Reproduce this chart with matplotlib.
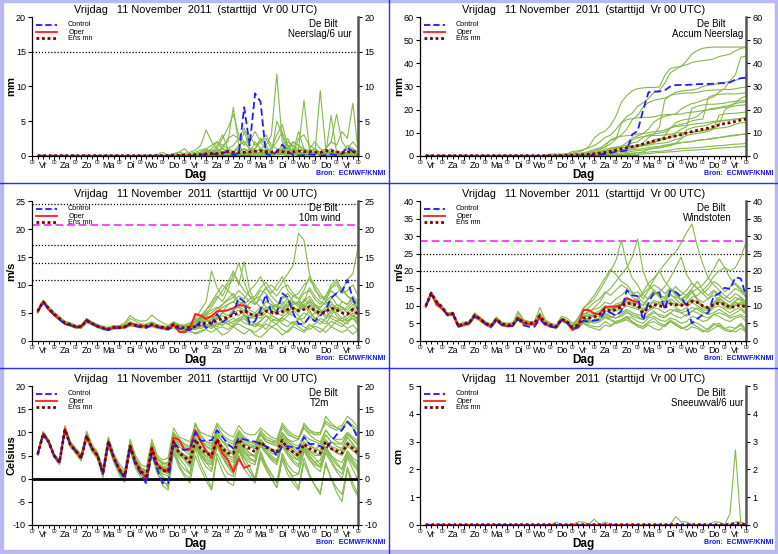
import numpy as np
import matplotlib
matplotlib.use("Agg")
import matplotlib.pyplot as plt
from matplotlib.lines import Line2D
from matplotlib.patches import Rectangle

plt.rcParams['font.family'] = ['Liberation Sans', 'DejaVu Sans']
plt.rcParams['axes.unicode_minus'] = False

# 6-hourly lead times, +6h .. +360h
lead_hours = [6 * i for i in range(1, 61)]
day_names = ['Vr', 'Za', 'Zo', 'Ma', 'Di', 'Wo', 'Do', 'Vr', 'Za', 'Zo', 'Ma', 'Di', 'Wo', 'Do', 'Vr']
title = 'Vrijdag   11 November  2011  (starttijd  Vr 00 UTC)'

# ---------------- precipitation per 6 h (mm) ----------------
precip_control = [0, 0, 0, 0, 0, 0, 0, 0, 0, 0, 0, 0, 0, 0, 0, 0, 0, 0, 0, 0,
                  0, 0, 0, 0, 0, 0, 0, 0, 0, 0, 0.1, 0.2, 0.3, 0.2, 0.3, 0.7, 0.1, 0.3, 7.0, 1.5,
                  9.0, 7.8, 0.3, 0, 0.6, 1.6, 0.6, 0.1, 0, 0.1, 0.2, 0.1, 0, 0.1, 0.2, 0.1, 0.3, 1.2, 0.6, 0.2]
precip_oper = [0] * 40
precip_ensmn = [0, 0, 0, 0, 0, 0, 0, 0, 0, 0, 0, 0, 0, 0, 0, 0, 0, 0, 0, 0,
                0, 0, 0, 0, 0.02, 0.05, 0.05, 0.08, 0.1, 0.12, 0.15, 0.25, 0.3, 0.3, 0.4, 0.6, 0.5, 0.45, 0.5, 0.55,
                0.65, 0.7, 0.6, 0.5, 0.65, 0.6, 0.45, 0.55, 0.7, 0.6, 0.6, 0.5, 0.45, 0.7, 0.7, 0.55, 0.4, 0.55, 0.6, 0.4]
precip_members = [
    [0, 0, 0, 0, 0, 0, 0, 0, 0, 0, 0, 0, 0, 0, 0, 0, 0, 0, 0, 0, 0, 0, 0, 0.1,
     0, 0.2, 0.5, 0.3, 0.5, 0.8, 1.5, 3.7, 2.0, 1.0, 2.5, 4.0, 6.0, 3.0, 2.0, 1.0,
     0.3, 0.2, 0, 0.2, 5.0, 3.0, 0.5, 0.3, 2.5, 3.0, 1.5, 1.0, 0.3, 0.2, 0, 0, 0, 0, 0, 0],
    [0, 0, 0, 0, 0, 0, 0, 0, 0, 0, 0, 0, 0, 0, 0, 0, 0, 0, 0, 0, 0, 0, 0, 0,
     0, 0.3, 0.5, 1.0, 0.3, 0.5, 0.8, 1.0, 1.5, 2.0, 1.0, 2.5, 3.0, 2.5, 1.5, 3.0,
     1.5, 2.0, 2.5, 1.0, 3.0, 4.5, 1.5, 1.5, 0.5, 1.0, 0.5, 0.3, 0.3, 0.5, 1.0, 0.5, 0.5, 1.5, 1.0, 0.5],
    [0, 0, 0, 0, 0, 0, 0, 0, 0, 0, 0, 0, 0, 0, 0, 0, 0, 0, 0, 0, 0, 0, 0, 0,
     0, 0, 0, 0.1, 0.2, 0.3, 0.2, 0.5, 0.5, 1.0, 0.5, 0.3, 0.5, 1.5, 2.0, 1.0,
     1.0, 2.0, 3.0, 1.5, 1.0, 0.5, 0.5, 2.0, 1.5, 1.0, 0.5, 1.0, 0.5, 1.0, 2.0, 1.5, 3.5, 2.5, 7.6, 0.5],
    [0, 0, 0, 0, 0, 0, 0, 0, 0, 0, 0, 0, 0, 0, 0, 0, 0, 0, 0, 0, 0, 0, 0, 0,
     0, 0, 0, 0, 0, 0.1, 0.3, 0.5, 0.3, 0.2, 0.5, 1.0, 0.5, 0.3, 0.2, 0.5,
     1.0, 2.5, 1.5, 3.0, 11.8, 2.0, 0.5, 0.3, 0.2, 0, 0.3, 0.5, 0.3, 0.2, 0, 0.2, 0, 0.3, 0.5, 0.2],
    [0, 0, 0, 0, 0, 0, 0, 0, 0, 0, 0, 0, 0, 0, 0, 0, 0, 0, 0, 0, 0, 0, 0, 0,
     0, 0, 0, 0, 0, 0, 0.2, 0.3, 0.5, 0.8, 0.3, 0.2, 0.3, 0.5, 1.0, 0.5,
     0.3, 0.2, 0.5, 1.0, 2.0, 3.5, 1.0, 0.5, 0.5, 1.0, 0.5, 0.3, 9.4, 1.0, 0.3, 0.2, 0, 0, 0.2, 0.3],
    [0, 0, 0, 0, 0, 0, 0, 0, 0, 0, 0, 0, 0, 0, 0, 0, 0, 0, 0, 0, 0, 0, 0, 0,
     0, 0, 0, 0, 0, 0.2, 0.5, 0.3, 0.2, 0.5, 1.0, 0.5, 0.3, 0.2, 0.5, 0.3,
     0.2, 0.5, 1.0, 0.5, 0.3, 1.0, 2.0, 1.5, 1.0, 8.0, 1.0, 0.5, 0.3, 0, 0.2, 0.3, 0.5, 0.3, 0.2, 0],
    [0, 0, 0, 0, 0, 0, 0, 0, 0, 0, 0, 0, 0, 0, 0, 0, 0, 0, 0, 0, 0, 0, 0.2, 0.5,
     0, 0, 0.1, 0, 0.2, 0.3, 0.5, 1.0, 0.5, 0.3, 1.5, 2.0, 7.0, 1.5, 0.5, 0.3,
     0.2, 0, 0.3, 0.5, 0.3, 0.2, 0, 0.2, 0.5, 0.3, 0.2, 0.5, 0.3, 0.2, 0.5, 0.3, 0.2, 0.5, 0.3, 0.2],
    [0, 0, 0, 0, 0, 0, 0, 0, 0, 0, 0, 0, 0, 0, 0, 0, 0, 0, 0, 0, 0, 0, 0, 0,
     0, 0, 0, 0, 0, 0, 0.2, 0.1, 0.3, 0.5, 0.2, 0.5, 0.5, 1.0, 3.5, 1.0,
     0.5, 0.3, 0.2, 0, 0.2, 0.3, 0.5, 0.2, 0, 0.2, 0.3, 0.5, 0.5, 0.3, 5.8, 0.5, 0.2, 0.1, 0.3, 0.2],
    [0, 0, 0, 0, 0, 0, 0, 0, 0, 0, 0, 0, 0, 0, 0, 0, 0, 0, 0, 0, 0, 0, 0, 0,
     0, 0, 0, 0, 0, 0, 0.1, 0.2, 0.3, 0.2, 0.5, 0.3, 0.5, 1.0, 0.5, 0.3,
     0.5, 1.0, 1.5, 0.5, 0.3, 0.2, 0.5, 1.0, 0.5, 0.3, 0.2, 0.3, 0.5, 0.5, 0.3, 0.2, 0.5, 1.0, 0.5, 0.3],
    [0, 0, 0, 0, 0, 0, 0, 0, 0, 0, 0, 0, 0, 0, 0, 0, 0, 0, 0, 0, 0, 0, 0, 0,
     0, 0, 0, 0, 0, 0, 0, 0.1, 0.2, 0.3, 0.1, 0.2, 0.3, 0.2, 0.5, 0.3,
     0.2, 0.5, 0.3, 0.2, 0.5, 1.0, 0.5, 0.3, 0.2, 0.3, 0.5, 0.2, 0.3, 0.5, 0.2, 0.3, 0.5, 0.3, 0.2, 0.2],
    [0, 0, 0, 0, 0, 0, 0, 0, 0, 0, 0, 0, 0, 0, 0, 0, 0, 0, 0, 0, 0, 0, 0, 0,
     0, 0, 0, 0, 0, 0, 0, 0, 0, 0.1, 0.2, 0.1, 0.2, 0.1, 0.3, 0.2,
     0.1, 0.3, 0.2, 0.1, 0.2, 0.3, 0.5, 0.2, 0.1, 0.2, 0.1, 0.2, 0.3, 0.2, 0.1, 0.2, 0.3, 0.2, 0.1, 0.2],
    [0, 0, 0, 0, 0, 0, 0, 0, 0, 0, 0, 0, 0, 0, 0, 0, 0, 0, 0, 0, 0, 0, 0, 0,
     0.1, 0.3, 0.2, 0.1, 0, 0.3, 0.5, 0.5, 1.0, 2.0, 1.5, 1.0, 1.5, 2.5, 4.0, 2.0,
     3.5, 2.0, 1.0, 0.5, 0.5, 1.0, 1.5, 0.5, 0.3, 0.2, 0.5, 1.0, 0.5, 0.3, 0.5, 0.5, 0.3, 0.5, 1.0, 0.5],
    [0, 0, 0, 0, 0, 0, 0, 0, 0, 0, 0, 0, 0, 0, 0, 0, 0, 0, 0, 0, 0, 0, 0, 0,
     0, 0, 0, 0, 0, 0.1, 0.3, 0.5, 0.8, 0.5, 1.0, 0.5, 0.3, 0.5, 1.0, 0.5,
     2.0, 1.0, 0.5, 0.3, 0.5, 1.5, 2.5, 1.0, 0.5, 0.3, 1.0, 2.0, 1.0, 0.5, 0.3, 0.5, 0.5, 1.0, 2.0, 1.0],
    [0, 0, 0, 0, 0, 0, 0, 0, 0, 0, 0, 0, 0, 0, 0, 0, 0, 0, 0, 0, 0, 0, 0, 0,
     0, 0, 0, 0, 0, 0, 0, 0.2, 0.3, 0.5, 0.2, 0.3, 0.5, 0.3, 0.5, 1.0,
     0.5, 0.3, 0.5, 0.2, 0.3, 0.5, 1.0, 0.5, 3.5, 1.0, 0.5, 0.3, 0.5, 1.0, 0.5, 0.3, 0.2, 0.5, 0.3, 0.2],
    [0, 0, 0, 0, 0, 0, 0, 0, 0, 0, 0, 0, 0, 0, 0, 0, 0, 0, 0, 0, 0, 0, 0, 0,
     0, 0, 0, 0, 0, 0.1, 0.2, 0.3, 0.2, 0.3, 0.5, 0.2, 0.3, 0.2, 0.3, 0.2,
     0.3, 0.5, 0.2, 0.3, 0.5, 0.3, 0.2, 0.5, 0.3, 0.2, 0.5, 0.3, 0.2, 0.3, 0.5, 0.3, 0.3, 0.2, 0.5, 0.3],
    [0, 0, 0, 0, 0, 0, 0, 0, 0, 0, 0, 0, 0, 0, 0, 0, 0, 0, 0, 0, 0, 0, 0, 0,
     0, 0, 0, 0, 0, 0, 0, 0, 0, 0.1, 0.2, 0.1, 0.2, 0.3, 0.2, 0.1,
     0.5, 1.0, 0.5, 0.3, 0.5, 0.3, 1.0, 2.0, 1.5, 0.5, 0.3, 0.5, 0.5, 1.0, 2.0, 6.0, 2.0, 1.0, 0.5, 0.3],
    [0, 0, 0, 0, 0, 0, 0, 0, 0, 0, 0, 0, 0, 0, 0, 0, 0, 0, 0, 0, 0, 0, 0, 0,
     0, 0.2, 0.5, 0.2, 0, 0, 0.2, 0.8, 0.5, 1.5, 3.0, 1.0, 0.5, 0.3, 0.2, 0.5,
     0.2, 0.3, 0.5, 0.2, 0.5, 1.0, 0.5, 0.3, 0.2, 0.5, 0.3, 0.2, 0.3, 0.5, 0.2, 0.3, 0.2, 0.3, 0.2, 0.3],
    [0, 0, 0, 0, 0, 0, 0, 0, 0, 0, 0, 0, 0, 0, 0, 0, 0, 0, 0, 0, 0, 0, 0, 0,
     0, 0, 0, 0, 0, 0, 0, 0, 0, 0, 0.1, 0.1, 0.1, 0.2, 0.1, 0,
     0.1, 0.2, 0.3, 0.2, 0.1, 0.2, 0.1, 0.3, 0.2, 0.1, 0.1, 0.2, 0.1, 0.3, 0.2, 0.1, 0.2, 0.1, 0.2, 0.1],
]

# ---------------- 10 m wind (m/s) ----------------
wind_control = [5.3, 7.0, 5.7, 4.7, 3.8, 3.0, 2.8, 2.4, 2.6, 3.7, 3.0, 2.6, 2.2, 1.9, 2.3, 2.3,
                2.4, 3.0, 2.6, 2.4, 2.3, 2.8, 2.5, 2.2, 2.0, 2.6, 2.2, 2.0, 1.9, 2.5, 3.5, 2.3,
                3.0, 4.8, 3.3, 4.0, 5.0, 7.7, 7.0, 3.0, 3.5, 5.5, 8.3, 5.0, 5.0, 8.5, 7.8, 5.0,
                3.0, 3.0, 4.3, 3.5, 4.5, 5.5, 7.7, 8.5, 8.8, 10.9, 7.5, 5.5]
wind_oper = [5.2, 7.0, 5.6, 4.6, 3.8, 3.0, 2.8, 2.4, 2.6, 3.8, 3.0, 2.6, 2.2, 2.0, 2.4, 2.4,
             2.4, 3.1, 2.8, 2.7, 2.5, 2.8, 2.5, 2.3, 2.1, 2.9, 1.6, 1.5, 2.2, 4.8, 4.5, 3.9,
             4.4, 5.3, 5.3, 5.5, 5.8, 6.4, 6.3, 5.9]
wind_ensmn = [5.3, 7.0, 5.8, 4.8, 4.0, 3.2, 2.9, 2.5, 2.5, 3.6, 3.1, 2.6, 2.3, 2.1, 2.4, 2.4,
              2.5, 3.0, 2.8, 2.6, 2.6, 2.9, 2.6, 2.4, 2.3, 2.9, 2.4, 2.3, 2.4, 2.5, 3.0, 3.2,
              3.2, 3.6, 4.0, 4.2, 4.6, 5.0, 5.4, 4.8, 4.5, 4.7, 5.3, 5.1, 4.9, 5.2, 5.6, 5.8,
              5.4, 5.6, 6.1, 5.4, 4.9, 5.1, 5.9, 5.5, 5.0, 4.8, 5.6, 4.6]
wind_members = [
    [5.0, 7.2, 6.0, 5.0, 4.2, 3.5, 3.2, 2.8, 2.7, 4.0, 3.4, 2.9, 2.6, 2.3, 2.7, 2.6,
     2.8, 3.4, 3.0, 2.9, 3.0, 3.4, 2.9, 2.6, 2.5, 3.2, 2.6, 2.4, 2.8, 3.5, 4.0, 4.8,
     5.5, 6.0, 5.2, 6.5, 7.0, 6.2, 5.5, 6.8, 7.5, 8.0, 9.5, 10.0, 9.0, 10.5, 12.0, 13.5,
     19.3, 18.0, 12.0, 9.0, 8.0, 7.5, 9.0, 8.0, 7.0, 6.5, 8.0, 7.0],
    [5.6, 7.0, 5.5, 4.5, 3.8, 3.0, 2.7, 2.2, 2.3, 3.4, 2.9, 2.4, 2.0, 1.9, 2.2, 2.3,
     2.3, 2.8, 2.6, 2.4, 2.4, 2.7, 2.4, 2.2, 2.1, 2.6, 2.0, 1.8, 2.2, 3.0, 4.5, 5.0,
     6.0, 7.5, 9.0, 10.5, 12.5, 10.0, 14.2, 9.0, 7.0, 6.0, 5.5, 6.5, 5.0, 4.5, 6.0, 7.0,
     6.5, 5.5, 7.5, 6.0, 5.5, 4.0, 4.5, 6.0, 5.0, 3.5, 4.0, 3.0],
    [5.2, 6.8, 5.9, 4.9, 4.1, 3.3, 3.0, 2.6, 2.4, 3.8, 3.3, 2.7, 2.4, 2.2, 2.6, 2.5,
     2.9, 4.0, 3.5, 3.0, 2.7, 3.1, 2.8, 2.5, 2.4, 3.3, 2.8, 2.6, 3.0, 4.0, 5.5, 7.0,
     12.5, 9.5, 8.0, 10.0, 11.0, 14.0, 10.5, 8.0, 7.5, 9.0, 8.5, 7.0, 6.0, 8.0, 7.5, 6.5,
     7.0, 8.5, 9.0, 7.5, 6.5, 8.0, 9.5, 10.5, 9.0, 11.0, 12.0, 17.0],
    [5.1, 6.7, 5.5, 4.6, 3.7, 2.9, 2.6, 2.3, 2.2, 3.2, 2.8, 2.3, 2.0, 1.8, 2.1, 2.1,
     2.2, 2.6, 2.5, 2.3, 2.3, 2.5, 2.2, 2.0, 1.9, 2.3, 1.8, 1.5, 1.6, 1.4, 1.8, 2.0,
     1.5, 2.2, 2.5, 2.0, 2.8, 3.0, 2.4, 2.0, 1.5, 2.2, 3.0, 2.5, 2.0, 1.0, 1.8, 2.8,
     3.2, 2.5, 2.0, 2.6, 2.2, 1.5, 2.5, 3.5, 3.0, 2.2, 2.8, 1.8],
    [5.5, 7.3, 6.1, 5.1, 4.3, 3.4, 3.1, 2.7, 2.8, 3.9, 3.3, 2.8, 2.5, 2.4, 2.7, 2.7,
     3.2, 4.5, 3.8, 3.5, 3.6, 4.6, 3.8, 3.2, 2.7, 3.4, 2.9, 2.8, 3.2, 3.8, 4.2, 4.6,
     5.0, 5.8, 6.5, 7.2, 7.8, 9.0, 8.0, 7.0, 6.5, 8.0, 9.5, 8.5, 10.0, 11.5, 9.0, 8.0,
     8.5, 10.0, 11.0, 9.5, 7.5, 8.0, 10.0, 11.0, 9.0, 8.0, 7.5, 6.5],
    [5.3, 6.9, 5.7, 4.7, 3.9, 3.1, 2.8, 2.4, 2.5, 3.5, 3.0, 2.5, 2.2, 2.0, 2.3, 2.3,
     2.4, 2.9, 2.7, 2.5, 2.5, 2.8, 2.5, 2.3, 2.2, 2.7, 2.2, 2.0, 2.0, 2.3, 2.8, 2.5,
     2.2, 3.0, 3.5, 3.0, 3.5, 4.0, 3.2, 2.8, 3.0, 3.5, 4.5, 4.0, 3.5, 4.2, 5.0, 4.5,
     3.8, 4.0, 5.5, 4.0, 3.5, 3.0, 4.5, 4.0, 3.5, 3.0, 4.5, 3.2],
    [5.4, 7.1, 5.9, 4.9, 4.0, 3.2, 3.0, 2.6, 2.6, 3.7, 3.2, 2.7, 2.4, 2.1, 2.5, 2.5,
     2.6, 3.1, 2.9, 2.7, 2.8, 3.0, 2.7, 2.5, 2.4, 3.0, 2.5, 2.4, 2.6, 2.8, 3.5, 3.8,
     3.5, 4.2, 5.0, 5.5, 6.0, 6.5, 7.0, 5.5, 5.0, 4.5, 5.5, 6.0, 6.5, 7.0, 6.0, 8.0,
     7.5, 6.0, 7.0, 6.5, 6.0, 7.0, 8.0, 6.5, 6.0, 5.5, 6.5, 5.5],
    [5.2, 7.0, 5.8, 4.8, 4.0, 3.2, 2.9, 2.5, 2.5, 3.6, 3.1, 2.6, 2.3, 2.1, 2.4, 2.4,
     2.5, 3.0, 2.8, 2.6, 2.6, 2.9, 2.6, 2.4, 2.3, 2.8, 2.3, 2.1, 2.3, 2.0, 2.5, 2.8,
     2.5, 3.0, 2.8, 3.5, 4.0, 3.5, 4.5, 3.0, 2.5, 3.0, 2.0, 3.5, 4.0, 3.0, 2.5, 3.5,
     2.5, 1.8, 3.0, 2.2, 1.5, 2.5, 3.5, 3.0, 2.5, 3.5, 4.0, 2.8],
    [5.0, 6.9, 5.6, 4.7, 4.1, 3.3, 2.8, 2.6, 2.6, 3.7, 3.0, 2.5, 2.2, 2.2, 2.5, 2.3,
     2.6, 3.0, 2.7, 2.6, 2.5, 2.8, 2.6, 2.3, 2.2, 2.8, 2.3, 2.2, 2.4, 2.6, 3.2, 3.5,
     3.8, 4.5, 3.5, 4.0, 5.0, 4.5, 5.5, 4.2, 4.0, 5.0, 6.0, 5.5, 5.0, 5.5, 6.5, 7.0,
     6.0, 7.0, 8.0, 6.5, 5.0, 6.0, 7.0, 5.5, 6.0, 5.0, 6.0, 5.0],
    [5.4, 7.1, 6.0, 5.0, 4.1, 3.3, 3.0, 2.6, 2.6, 3.7, 3.2, 2.7, 2.4, 2.3, 2.5, 2.5,
     2.6, 3.2, 2.9, 2.7, 2.7, 3.0, 2.7, 2.5, 2.4, 3.0, 2.6, 2.5, 2.7, 3.0, 3.8, 4.5,
     4.0, 4.8, 6.0, 6.5, 7.0, 8.0, 7.5, 9.0, 10.0, 11.5, 9.5, 8.0, 7.0, 6.5, 5.0, 6.0,
     5.5, 6.5, 5.0, 4.0, 4.5, 5.5, 4.0, 3.5, 4.0, 4.5, 5.5, 4.5],
    [5.2, 6.8, 5.6, 4.6, 3.8, 3.0, 2.7, 2.3, 2.3, 3.4, 2.9, 2.4, 2.1, 1.9, 2.2, 2.2,
     2.3, 2.8, 2.6, 2.4, 2.4, 2.7, 2.4, 2.2, 2.1, 2.6, 2.1, 1.9, 1.8, 1.2, 1.5, 2.2,
     2.8, 2.0, 1.0, 1.5, 2.5, 1.8, 1.2, 2.0, 1.0, 0.6, 1.5, 2.5, 3.0, 2.0, 1.5, 2.5,
     2.0, 1.5, 2.5, 3.0, 4.0, 3.5, 2.5, 2.0, 1.5, 2.0, 1.2, 2.0],
    [5.3, 7.0, 5.7, 4.9, 4.0, 3.1, 2.9, 2.5, 2.4, 3.6, 3.1, 2.6, 2.3, 2.0, 2.3, 2.4,
     2.5, 2.9, 2.8, 2.5, 2.6, 2.9, 2.6, 2.3, 2.3, 2.8, 2.4, 2.3, 2.5, 2.8, 3.5, 4.0,
     4.5, 3.8, 5.0, 4.5, 5.5, 6.0, 4.8, 4.0, 4.5, 5.5, 7.0, 6.5, 6.0, 7.5, 8.5, 7.0,
     6.5, 7.0, 9.5, 8.0, 7.0, 6.5, 7.5, 8.5, 9.5, 8.0, 7.0, 6.0],
    [5.4, 7.1, 5.9, 4.9, 4.1, 3.3, 3.0, 2.6, 2.6, 3.7, 3.2, 2.7, 2.4, 2.2, 2.5, 2.5,
     2.6, 3.1, 2.9, 2.7, 2.7, 3.0, 2.7, 2.5, 2.4, 3.0, 2.5, 2.4, 2.6, 3.2, 3.8, 4.2,
     4.5, 5.2, 6.5, 7.5, 8.5, 7.0, 6.5, 7.5, 8.0, 9.5, 10.5, 9.0, 8.0, 9.5, 10.0, 8.5,
     7.5, 9.0, 11.5, 10.0, 8.5, 7.0, 9.5, 10.0, 8.5, 9.0, 10.0, 8.0],
    [5.2, 6.9, 5.7, 4.7, 3.9, 3.1, 2.8, 2.4, 2.4, 3.5, 3.0, 2.5, 2.2, 2.0, 2.3, 2.3,
     2.4, 2.9, 2.7, 2.5, 2.5, 2.8, 2.5, 2.3, 2.2, 2.8, 2.3, 2.2, 2.2, 2.0, 2.6, 3.0,
     2.5, 3.2, 2.8, 3.5, 3.0, 4.0, 4.5, 3.5, 3.0, 2.5, 3.5, 4.5, 4.0, 3.5, 4.5, 5.5,
     4.5, 3.0, 4.0, 5.0, 4.5, 5.5, 6.0, 4.5, 3.5, 4.0, 5.0, 3.5],
    [5.3, 7.0, 5.8, 4.8, 4.0, 3.2, 2.9, 2.5, 2.5, 3.6, 3.1, 2.6, 2.3, 2.1, 2.4, 2.4,
     2.5, 3.0, 2.8, 2.6, 2.6, 2.9, 2.6, 2.4, 2.3, 2.9, 2.4, 2.3, 2.5, 3.0, 4.0, 5.5,
     7.0, 8.5, 10.0, 9.0, 8.0, 6.5, 6.0, 5.0, 4.5, 4.0, 5.0, 6.0, 5.5, 6.5, 7.5, 6.0,
     5.0, 6.5, 7.0, 5.5, 4.5, 5.5, 6.5, 6.0, 5.5, 6.0, 7.0, 5.5],
    [5.2, 6.9, 5.7, 4.7, 3.9, 3.1, 2.8, 2.4, 2.5, 3.6, 3.0, 2.5, 2.2, 2.0, 2.3, 2.4,
     2.4, 2.9, 2.7, 2.5, 2.5, 2.8, 2.5, 2.3, 2.2, 2.8, 2.3, 2.1, 2.1, 2.4, 2.2, 2.5,
     3.0, 2.5, 3.5, 3.0, 2.5, 3.5, 4.0, 3.0, 2.5, 3.5, 4.5, 3.5, 3.0, 4.0, 3.5, 3.0,
     4.0, 5.0, 4.5, 3.5, 3.0, 4.0, 5.5, 5.0, 4.0, 3.5, 4.5, 4.0],
    [5.5, 7.2, 6.0, 5.0, 4.2, 3.4, 3.1, 2.7, 2.7, 3.8, 3.3, 2.8, 2.5, 2.3, 2.6, 2.6,
     2.7, 3.3, 3.0, 2.8, 2.8, 3.2, 2.8, 2.6, 2.5, 3.2, 2.7, 2.6, 2.8, 3.5, 4.5, 5.5,
     6.5, 8.0, 7.0, 9.0, 12.0, 10.5, 9.0, 8.0, 6.5, 7.5, 6.0, 5.5, 6.5, 5.5, 7.0, 6.0,
     5.5, 7.5, 6.5, 5.0, 6.0, 7.0, 6.0, 5.5, 7.0, 6.5, 7.5, 6.5],
    [5.3, 7.0, 5.8, 4.8, 4.0, 3.2, 2.9, 2.5, 2.6, 3.6, 3.1, 2.6, 2.3, 2.1, 2.4, 2.4,
     2.5, 3.1, 2.8, 2.6, 2.6, 2.9, 2.6, 2.4, 2.3, 2.9, 2.4, 2.3, 2.4, 2.6, 3.2, 3.6,
     3.0, 4.0, 4.5, 4.0, 5.0, 5.5, 4.5, 4.0, 5.0, 6.0, 5.5, 4.5, 5.5, 6.0, 5.0, 6.5,
     7.0, 6.0, 5.5, 6.5, 5.5, 4.5, 5.0, 6.5, 6.0, 5.0, 4.5, 4.0],
]

# ---------------- wind gusts (m/s) ----------------
gust_control = [9.8, 13.4, 11.0, 9.4, 7.4, 7.6, 4.2, 4.8, 5.0, 7.0, 6.0, 4.8, 4.0, 5.8, 4.6, 4.2,
                4.3, 6.2, 4.4, 4.0, 4.0, 6.2, 4.5, 4.0, 3.8, 6.0, 5.2, 3.5, 3.8, 5.7, 5.5, 5.8,
                6.0, 8.5, 8.0, 7.2, 8.5, 14.5, 13.0, 12.8, 5.8, 11.0, 13.8, 13.8, 9.0, 14.3, 14.0, 12.5,
                10.0, 5.0, 6.3, 7.5, 8.0, 12.8, 13.5, 15.2, 14.8, 18.2, 17.8, 12.5]
gust_oper = [9.8, 13.8, 10.2, 9.2, 7.4, 7.8, 4.0, 4.6, 5.0, 7.2, 6.2, 5.0, 4.0, 6.2, 4.5, 4.2,
             4.2, 6.7, 5.0, 4.8, 4.7, 6.6, 4.7, 4.2, 3.8, 6.0, 5.2, 3.0, 4.0, 8.8, 8.8, 7.8,
             7.6, 9.7, 9.8, 9.8, 10.2, 12.2, 11.5, 11.0]
gust_ensmn = [10.0, 13.6, 11.2, 9.6, 7.5, 7.8, 4.2, 4.8, 5.2, 7.3, 6.2, 5.0, 4.2, 6.2, 4.8, 4.5,
              4.5, 6.6, 5.2, 5.0, 5.0, 7.2, 5.0, 4.5, 4.0, 6.2, 5.5, 3.8, 4.5, 6.5, 6.5, 6.8,
              7.5, 9.0, 8.5, 9.0, 9.7, 10.8, 10.5, 10.2, 8.0, 9.5, 10.4, 10.0, 9.6, 10.5, 10.3, 10.2,
              10.3, 11.3, 11.0, 10.0, 9.5, 10.3, 10.8, 10.5, 9.5, 9.8, 10.3, 9.5]
gust_members = [
    [10.2, 14.0, 11.5, 10.0, 8.0, 8.2, 4.8, 5.3, 5.5, 8.0, 6.8, 5.5, 4.7, 6.8, 5.3, 5.0,
     5.2, 7.8, 5.8, 5.5, 5.5, 8.0, 5.6, 5.0, 4.5, 7.0, 6.5, 5.0, 6.0, 9.5, 10.5, 12.0,
     14.5, 17.0, 20.0, 23.0, 28.8, 22.0, 18.0, 16.0, 13.0, 12.0, 14.0, 12.5, 11.0, 13.5, 12.0, 10.5,
     12.0, 14.0, 11.5, 10.0, 9.0, 11.0, 12.5, 11.0, 10.0, 11.5, 12.0, 10.5],
    [9.9, 13.5, 10.9, 9.5, 7.4, 7.7, 4.2, 4.7, 4.9, 7.1, 6.1, 4.9, 4.0, 6.0, 4.7, 4.4,
     4.4, 6.5, 5.1, 4.9, 4.9, 7.0, 4.9, 4.4, 3.8, 6.0, 5.4, 4.0, 5.0, 7.5, 8.0, 9.5,
     11.0, 13.5, 15.0, 17.0, 19.0, 21.0, 24.0, 29.2, 20.0, 16.0, 14.5, 13.0, 12.5, 15.0, 13.5, 12.0,
     13.0, 14.5, 12.0, 11.0, 12.0, 13.0, 11.5, 10.0, 9.5, 11.0, 10.5, 9.0],
    [10.0, 13.7, 11.3, 9.8, 7.7, 8.0, 4.5, 5.0, 5.2, 7.5, 6.4, 5.2, 4.4, 6.4, 5.0, 4.7,
     4.7, 6.9, 5.4, 5.2, 5.2, 7.5, 5.2, 4.7, 4.2, 6.5, 5.8, 4.2, 5.0, 7.0, 7.5, 8.0,
     8.5, 10.0, 9.5, 10.5, 11.0, 12.5, 11.5, 12.0, 13.5, 15.0, 17.5, 20.0, 22.0, 24.0, 25.5, 28.0,
     31.0, 33.5, 27.0, 22.0, 18.0, 16.0, 14.5, 13.0, 12.0, 13.5, 12.5, 11.0],
    [9.7, 13.2, 10.8, 9.3, 7.3, 7.5, 4.1, 4.6, 4.8, 7.0, 6.0, 4.8, 4.0, 6.0, 4.6, 4.3,
     4.3, 6.4, 5.0, 4.8, 4.8, 6.9, 4.8, 4.3, 3.8, 6.0, 5.3, 3.6, 4.3, 6.0, 6.5, 7.0,
     7.0, 8.5, 8.0, 8.5, 9.0, 10.0, 9.5, 9.0, 8.5, 9.0, 10.0, 11.0, 10.5, 12.0, 11.0, 10.0,
     11.0, 12.5, 13.0, 14.5, 16.0, 18.5, 20.0, 21.0, 20.0, 21.0, 24.0, 28.5],
    [9.6, 13.0, 10.5, 9.0, 7.1, 7.2, 3.8, 4.2, 4.5, 6.6, 5.6, 4.4, 3.6, 5.6, 4.2, 3.9,
     4.0, 6.0, 4.6, 4.4, 4.4, 6.4, 4.4, 3.9, 3.4, 5.5, 4.8, 3.2, 3.5, 5.0, 4.5, 4.0,
     4.0, 5.5, 4.5, 5.0, 5.5, 6.0, 5.0, 4.5, 4.0, 5.0, 5.5, 4.5, 4.0, 5.5, 4.5, 3.5,
     4.0, 5.5, 5.0, 4.0, 3.0, 4.5, 5.0, 3.5, 4.0, 3.5, 5.0, 3.0],
    [10.1, 13.8, 11.3, 9.8, 7.7, 8.0, 4.5, 5.0, 5.2, 7.5, 6.4, 5.2, 4.4, 6.4, 5.0, 4.7,
     4.7, 6.8, 5.4, 5.2, 5.2, 7.4, 5.2, 4.7, 4.2, 6.4, 5.7, 4.0, 4.8, 6.8, 7.0, 7.5,
     8.0, 9.5, 9.0, 10.0, 10.5, 12.0, 11.5, 11.0, 10.0, 12.0, 13.0, 14.0, 15.5, 18.0, 21.0, 24.0,
     19.0, 16.5, 15.0, 13.5, 12.0, 14.0, 13.0, 12.0, 11.0, 12.5, 11.5, 10.0],
    [10.0, 13.6, 11.2, 9.6, 7.5, 7.8, 4.3, 4.8, 5.0, 7.3, 6.2, 5.0, 4.2, 6.2, 4.8, 4.5,
     4.5, 6.6, 5.2, 5.0, 5.0, 7.2, 5.0, 4.5, 4.0, 6.2, 5.5, 3.8, 4.5, 7.0, 7.5, 7.0,
     8.0, 9.5, 9.0, 9.5, 10.0, 11.5, 11.0, 10.5, 9.0, 10.0, 11.0, 10.5, 10.0, 11.0, 10.5, 10.0,
     10.5, 11.5, 11.0, 10.0, 9.5, 10.5, 11.0, 10.5, 9.5, 10.0, 10.5, 9.5],
    [9.8, 13.4, 10.9, 9.4, 7.3, 7.6, 4.1, 4.6, 4.8, 7.1, 6.0, 4.8, 4.0, 6.0, 4.6, 4.3,
     4.3, 6.4, 5.0, 4.8, 4.8, 7.0, 4.8, 4.3, 3.8, 6.0, 5.3, 3.6, 3.5, 5.5, 5.5, 6.0,
     6.5, 7.5, 7.0, 6.5, 7.0, 8.0, 7.5, 7.0, 6.0, 7.0, 8.0, 7.5, 7.0, 8.0, 7.0, 6.5,
     7.5, 8.5, 8.0, 7.0, 6.5, 7.5, 8.0, 7.5, 6.5, 7.0, 7.5, 6.5],
    [9.9, 13.5, 11.0, 9.5, 7.4, 7.7, 4.2, 4.7, 4.9, 7.2, 6.1, 4.9, 4.1, 6.1, 4.7, 4.4,
     4.4, 6.5, 5.1, 4.9, 4.9, 7.1, 4.9, 4.4, 3.9, 6.1, 5.4, 3.7, 4.0, 5.0, 4.0, 3.5,
     3.0, 4.5, 4.0, 5.5, 6.0, 7.0, 5.5, 4.0, 3.5, 4.5, 3.5, 3.0, 4.5, 6.0, 5.0, 4.0,
     3.0, 4.0, 3.5, 2.5, 3.5, 5.0, 4.0, 3.0, 2.5, 3.5, 4.5, 2.5],
    [10.2, 13.9, 11.3, 9.9, 7.8, 8.1, 4.6, 5.1, 5.3, 7.6, 6.5, 5.3, 4.5, 6.5, 5.1, 4.8,
     4.8, 8.5, 6.0, 5.5, 5.5, 9.5, 6.0, 5.0, 4.3, 6.5, 5.8, 4.5, 6.0, 8.5, 9.5, 11.0,
     12.0, 14.0, 13.0, 14.5, 16.0, 15.0, 13.5, 14.0, 12.0, 14.5, 16.0, 15.0, 13.5, 15.0, 14.0, 13.0,
     14.5, 16.5, 15.0, 13.5, 15.0, 17.0, 16.0, 14.0, 15.5, 16.5, 15.0, 13.0],
    [9.8, 13.3, 10.8, 9.4, 7.3, 7.6, 4.1, 4.6, 4.8, 7.1, 6.0, 4.8, 4.0, 6.0, 4.6, 4.3,
     4.3, 6.4, 5.0, 4.8, 4.8, 7.0, 4.8, 4.3, 3.8, 6.0, 5.3, 3.6, 4.2, 6.0, 6.0, 5.5,
     6.0, 7.0, 6.5, 7.5, 8.0, 9.0, 8.0, 7.5, 7.0, 8.5, 9.5, 9.0, 8.0, 9.0, 8.5, 8.0,
     8.5, 9.5, 9.0, 8.0, 8.0, 9.5, 10.0, 9.0, 8.0, 9.0, 9.5, 8.0],
    [10.0, 13.6, 11.0, 9.6, 7.5, 7.8, 4.3, 4.8, 5.0, 7.3, 6.2, 5.0, 4.2, 6.2, 4.8, 4.5,
     4.5, 6.6, 5.2, 5.0, 5.0, 7.2, 5.0, 4.5, 4.0, 6.2, 5.5, 3.8, 5.0, 7.0, 7.0, 7.5,
     8.0, 9.5, 9.0, 10.0, 10.5, 11.0, 10.0, 9.5, 9.0, 10.5, 11.5, 11.0, 11.5, 13.0, 12.5, 12.0,
     12.5, 14.0, 15.0, 16.0, 18.0, 20.5, 23.5, 21.0, 18.0, 16.0, 14.5, 13.0],
    [10.1, 13.7, 11.1, 9.7, 7.6, 7.9, 4.4, 4.9, 5.1, 7.4, 6.3, 5.1, 4.3, 6.3, 4.9, 4.6,
     4.6, 6.7, 5.3, 5.1, 5.1, 7.3, 5.1, 4.6, 4.1, 6.3, 5.6, 4.0, 5.5, 7.5, 8.5, 9.0,
     9.5, 11.0, 10.5, 12.0, 13.0, 14.5, 12.5, 11.5, 10.0, 12.5, 14.5, 13.0, 12.0, 14.0, 15.5, 14.0,
     13.0, 15.0, 17.0, 14.5, 13.0, 14.5, 13.5, 12.0, 13.5, 15.0, 14.0, 12.5],
    [9.8, 13.4, 10.9, 9.4, 7.3, 7.6, 4.1, 4.6, 4.8, 7.1, 6.0, 4.8, 4.0, 6.0, 4.6, 4.3,
     4.3, 6.4, 5.0, 4.8, 4.8, 7.0, 4.8, 4.3, 3.8, 6.0, 5.3, 3.6, 3.8, 5.0, 5.5, 5.0,
     5.5, 6.5, 6.0, 5.5, 6.0, 7.0, 6.5, 5.5, 5.0, 6.5, 7.0, 6.0, 5.5, 6.5, 6.0, 5.0,
     5.5, 7.0, 6.5, 5.5, 6.0, 7.5, 7.0, 6.0, 5.5, 6.5, 7.0, 5.5],
    [10.0, 13.6, 11.1, 9.6, 7.5, 7.8, 4.3, 4.8, 5.0, 7.3, 6.2, 5.0, 4.2, 6.2, 4.8, 4.5,
     4.5, 6.6, 5.2, 5.0, 5.0, 7.2, 5.0, 4.5, 4.0, 6.2, 5.5, 3.8, 4.5, 6.0, 6.5, 7.0,
     8.0, 9.5, 8.5, 9.0, 10.0, 11.0, 10.5, 12.0, 14.0, 16.5, 18.0, 20.0, 17.0, 15.0, 13.0, 11.5,
     10.5, 12.0, 11.0, 9.5, 9.0, 10.5, 12.0, 11.0, 10.0, 11.5, 12.5, 11.0],
    [9.9, 13.5, 11.0, 9.5, 7.4, 7.7, 4.2, 4.7, 4.9, 7.2, 6.1, 4.9, 4.1, 6.1, 4.7, 4.4,
     4.4, 6.5, 5.1, 4.9, 4.9, 7.1, 4.9, 4.4, 3.9, 6.1, 5.4, 3.7, 4.2, 5.5, 5.0, 6.0,
     6.5, 8.0, 7.0, 6.5, 7.5, 8.5, 7.0, 6.5, 6.0, 7.5, 8.5, 7.0, 6.5, 8.0, 9.0, 8.0,
     7.0, 8.5, 9.5, 8.5, 7.5, 8.0, 9.0, 8.0, 7.0, 8.0, 9.0, 7.5],
    [9.7, 13.3, 10.8, 9.3, 7.2, 7.5, 4.0, 4.5, 4.7, 7.0, 5.9, 4.7, 3.9, 5.9, 4.5, 4.2,
     4.2, 6.3, 4.9, 4.7, 4.7, 6.9, 4.7, 4.2, 3.7, 5.9, 5.2, 3.5, 4.0, 5.5, 6.0, 5.5,
     6.0, 7.0, 6.0, 5.0, 5.5, 6.5, 5.5, 4.5, 4.0, 5.5, 6.5, 5.0, 4.5, 5.5, 4.5, 3.5,
     4.0, 5.0, 4.0, 3.0, 2.5, 3.5, 4.5, 3.5, 3.0, 2.5, 3.5, 2.5],
    [10.1, 13.8, 11.2, 9.7, 7.6, 7.9, 4.4, 4.9, 5.1, 7.4, 6.3, 5.1, 4.3, 6.3, 4.9, 4.6,
     4.6, 6.7, 5.3, 5.1, 5.1, 7.3, 5.1, 4.6, 4.1, 6.3, 5.6, 4.2, 6.5, 9.0, 11.0, 13.0,
     15.5, 18.0, 20.5, 19.0, 17.0, 16.0, 14.0, 12.5, 11.0, 10.0, 9.5, 11.0, 10.0, 11.5, 9.5, 8.5,
     9.5, 11.0, 10.0, 9.0, 8.5, 10.0, 11.5, 9.5, 9.0, 10.5, 11.0, 10.0],
]

# ---------------- 2 m temperature (Celsius) ----------------
t2m_control = [5.3, 9.8, 8.0, 5.0, 3.5, 10.6, 7.3, 6.0, 4.5, 9.2, 6.5, 5.0, 1.0, 8.0, 4.5, 1.8,
               0.0, 7.0, 3.0, 1.0, -1.2, 5.5, 2.0, -1.0, -1.0, 8.0, 6.5, 6.2, 6.5, 10.0, 8.2, 8.2,
               8.3, 10.5, 9.0, 7.5, 6.5, 8.8, 8.5, 8.2, 8.0, 7.5, 7.0, 6.5, 5.0, 7.0, 7.0, 6.8,
               6.5, 9.0, 7.5, 7.5, 7.0, 6.3, 8.0, 9.5, 10.5, 12.3, 11.0, 8.5]
t2m_oper = [5.3, 9.8, 8.0, 5.0, 3.5, 10.8, 7.5, 6.0, 4.5, 9.3, 6.5, 5.0, 1.0, 8.0, 4.5, 2.0,
            0.2, 7.2, 3.5, 1.5, 0.0, 6.8, 3.0, 2.0, 1.5, 8.8, 8.5, 6.2, 6.3, 10.5, 8.0, 6.0,
            4.5, 8.5, 5.5, 4.0, 1.5, 4.3, 2.3, 2.8]
t2m_ensmn = [5.3, 9.6, 8.0, 5.0, 3.5, 10.6, 7.3, 6.0, 4.5, 9.2, 6.5, 5.0, 1.2, 8.0, 4.5, 2.0,
             0.5, 7.0, 3.5, 1.6, 0.5, 6.5, 2.8, 1.8, 1.5, 8.0, 5.5, 4.8, 3.5, 8.5, 6.5, 5.5,
             5.0, 8.5, 6.5, 5.5, 5.5, 8.5, 7.0, 6.5, 5.8, 8.0, 6.8, 6.2, 5.8, 8.3, 6.5, 5.8,
             5.0, 7.5, 6.5, 6.0, 5.5, 8.0, 6.5, 6.0, 5.5, 7.5, 6.5, 5.5]
t2m_members = [
    [5.5, 10.2, 8.4, 5.4, 4.0, 11.5, 8.0, 6.6, 5.2, 10.3, 7.3, 5.8, 2.2, 9.0, 5.5, 3.2,
     1.8, 8.5, 5.0, 3.0, 2.5, 8.5, 5.0, 4.0, 4.5, 11.0, 9.0, 8.5, 8.0, 11.5, 10.0, 9.5,
     9.0, 12.0, 10.5, 9.5, 9.0, 11.5, 10.0, 9.5, 9.5, 11.0, 10.0, 9.0, 8.5, 12.0, 10.5, 9.5,
     9.0, 11.5, 10.5, 10.0, 10.0, 12.5, 11.5, 11.0, 11.5, 13.5, 12.5, 11.0],
    [5.0, 9.4, 7.6, 4.6, 3.0, 10.0, 6.8, 5.4, 3.8, 8.5, 5.8, 4.2, 0.2, 7.0, 3.5, 0.8,
     -0.8, 6.0, 2.2, 0.2, -1.0, 5.0, 1.0, -0.5, -1.5, 5.5, 2.5, 0.5, -1.0, 5.0, 2.0, -0.5,
     -2.5, 4.5, 1.5, -0.8, -1.5, 5.0, 2.0, 0.5, -1.0, 4.5, 2.0, 0.0, -2.0, 4.0, 1.0, -1.0,
     -2.5, 3.5, 0.5, -1.5, -3.0, 3.0, 0.0, -2.0, -3.5, 2.5, -1.0, -3.5],
    [5.2, 9.7, 7.9, 5.1, 3.6, 10.9, 7.5, 6.2, 4.7, 9.5, 6.8, 5.3, 1.5, 8.4, 5.0, 2.5,
     1.0, 7.8, 4.2, 2.2, 1.0, 7.2, 3.5, 2.5, 2.0, 8.5, 6.0, 5.0, 4.0, 8.0, 5.5, 3.5,
     2.0, 7.0, 4.5, 2.5, 1.0, 6.5, 3.5, 1.5, 0.0, 6.0, 3.0, 1.0, -1.0, 5.0, 2.0, 0.0,
     -2.0, 4.5, 1.0, -1.5, -3.5, 3.5, 0.0, -3.0, -5.0, 2.0, -2.0, -4.0],
    [5.4, 10.0, 8.2, 5.2, 3.7, 11.0, 7.6, 6.2, 4.8, 9.6, 6.8, 5.2, 1.6, 8.5, 5.0, 2.5,
     1.0, 7.8, 4.2, 2.2, 1.5, 7.5, 4.5, 3.5, 3.0, 9.5, 7.5, 6.5, 5.5, 9.5, 8.0, 7.0,
     6.5, 9.5, 8.0, 7.0, 7.0, 10.0, 8.5, 8.0, 7.5, 9.5, 8.5, 8.0, 7.5, 10.0, 8.5, 7.5,
     7.0, 9.5, 8.5, 8.0, 7.5, 10.5, 9.0, 8.5, 8.5, 10.0, 9.0, 8.0],
    [5.1, 9.5, 7.8, 4.8, 3.3, 10.4, 7.0, 5.7, 4.2, 8.9, 6.2, 4.7, 0.6, 7.6, 4.0, 1.3,
     -0.3, 6.5, 2.8, 0.8, -0.5, 5.8, 1.5, -1.5, -2.5, 6.0, 3.0, 1.0, 0.0, 7.0, 4.5, 2.5,
     1.5, 7.5, 5.0, 3.0, 2.5, 7.5, 5.5, 4.5, 3.5, 7.5, 6.0, 5.0, 4.0, 8.0, 6.0, 5.0,
     4.0, 7.0, 5.5, 4.5, 3.0, 6.5, 5.0, 4.0, 3.5, 6.0, 4.5, 3.5],
    [5.3, 9.8, 8.0, 5.0, 3.5, 10.7, 7.3, 6.0, 4.4, 9.2, 6.4, 4.9, 1.2, 8.2, 4.6, 2.0,
     0.4, 7.0, 3.4, 1.4, 0.6, 6.7, 3.0, 2.0, 1.8, 8.2, 5.8, 5.0, 3.8, 9.0, 7.0, 6.0,
     5.5, 9.0, 7.0, 6.0, 6.0, 9.0, 7.5, 7.0, 6.5, 8.5, 7.0, 6.5, 6.0, 9.0, 7.5, 6.5,
     5.5, 8.0, 7.0, 6.5, 6.0, 8.5, 7.0, 6.5, 6.0, 8.0, 7.0, 6.0],
    [5.2, 9.6, 7.9, 4.9, 3.4, 10.5, 7.2, 5.9, 4.6, 9.4, 6.6, 5.1, 1.4, 8.3, 4.8, 2.3,
     0.8, 7.5, 3.8, 1.8, 1.2, 7.0, 3.5, 2.5, 3.0, 10.0, 8.5, 7.5, 7.0, 12.0, 9.5, 8.0,
     7.5, 10.0, 8.0, 6.5, 5.0, 8.5, 7.0, 5.5, 4.5, 7.5, 6.0, 4.5, 3.5, 7.5, 5.5, 4.0,
     3.0, 6.5, 5.0, 3.5, 2.5, 6.0, 4.0, 2.0, 1.0, 5.0, 3.0, 1.5],
    [5.3, 9.9, 8.1, 5.1, 3.6, 10.8, 7.4, 6.1, 4.4, 9.1, 6.4, 4.8, 0.9, 7.8, 4.2, 1.6,
     0.0, 6.8, 3.2, 1.2, 0.0, 6.2, 2.2, 0.5, -0.5, 7.0, 4.5, 3.0, 1.0, 6.5, 3.0, 0.5,
     -2.0, 5.5, 3.0, 1.0, 0.5, 6.5, 4.5, 3.5, 3.0, 8.0, 6.5, 5.5, 5.0, 9.5, 8.0, 7.0,
     6.5, 9.0, 7.5, 6.5, 6.0, 9.5, 8.0, 7.5, 7.5, 10.0, 8.5, 7.0],
    [5.4, 9.8, 8.0, 5.1, 3.6, 10.6, 7.2, 5.9, 4.6, 9.3, 6.6, 5.1, 1.3, 8.1, 4.6, 2.1,
     0.5, 7.3, 3.6, 1.7, 0.8, 6.9, 3.2, 2.3, 2.2, 8.5, 6.0, 5.2, 4.5, 8.0, 6.0, 5.0,
     4.0, 8.0, 6.0, 4.5, 4.0, 8.0, 6.5, 5.5, 5.0, 8.5, 7.0, 6.0, 5.5, 8.0, 6.5, 5.5,
     4.5, 7.5, 6.0, 5.0, 5.0, 8.0, 6.5, 5.5, 5.0, 7.0, 6.0, 5.0],
    [5.3, 9.7, 8.0, 5.0, 3.5, 10.7, 7.4, 6.0, 4.5, 9.4, 6.6, 5.1, 1.3, 8.0, 4.6, 2.2,
     0.7, 7.4, 3.7, 1.9, 1.0, 6.8, 3.4, 2.5, 2.5, 9.0, 7.0, 6.0, 5.0, 10.0, 8.0, 7.5,
     7.0, 11.5, 9.5, 8.5, 8.0, 10.5, 9.0, 8.0, 7.5, 10.5, 9.0, 8.5, 8.0, 11.5, 10.0, 9.0,
     8.5, 12.0, 10.5, 9.5, 9.5, 13.5, 12.0, 11.0, 10.5, 12.5, 11.0, 9.5],
    [5.2, 9.6, 7.9, 5.0, 3.4, 10.5, 7.2, 5.8, 4.3, 9.0, 6.3, 4.8, 1.0, 7.9, 4.4, 1.8,
     0.2, 6.8, 3.2, 1.2, 0.2, 6.3, 2.5, 1.0, 0.5, 7.5, 5.0, 4.0, 2.5, 7.5, 5.0, 3.5,
     3.0, 7.0, 5.0, 3.0, 2.0, 6.5, 4.5, 2.5, 0.0, 5.5, 3.0, 1.0, -1.0, 5.5, 3.0, 1.5,
     1.0, 6.0, 4.0, 3.0, 2.5, 7.0, 5.0, 3.5, 2.0, 6.0, 4.0, 2.5],
    [5.4, 10.0, 8.2, 5.2, 3.7, 11.2, 7.7, 6.3, 4.9, 9.7, 6.9, 5.4, 1.7, 8.6, 5.1, 2.6,
     1.2, 8.0, 4.4, 2.4, 1.8, 7.8, 4.2, 3.0, 3.5, 10.0, 8.0, 7.0, 6.0, 10.5, 8.5, 7.0,
     6.0, 10.0, 8.0, 7.5, 6.5, 9.5, 8.0, 7.0, 6.5, 9.5, 8.0, 7.5, 7.0, 9.5, 8.0, 7.0,
     6.0, 9.0, 7.5, 6.5, 7.0, 9.5, 8.0, 7.0, 6.5, 9.0, 7.5, 6.0],
    [5.2, 9.6, 7.8, 4.8, 3.3, 10.3, 7.0, 5.6, 4.2, 8.8, 6.1, 4.6, 0.7, 7.6, 4.0, 1.4,
     -0.2, 6.6, 2.9, 0.9, -0.3, 6.0, 2.0, 0.0, -2.0, 6.5, 3.5, 2.0, 1.0, 7.5, 5.0, 3.5,
     3.0, 7.5, 5.5, 4.0, 3.5, 7.0, 5.0, 4.0, 4.0, 7.0, 5.5, 4.5, 3.5, 7.5, 5.5, 4.5,
     4.0, 7.0, 5.0, 3.5, 2.5, 6.5, 4.5, 3.0, 2.0, 5.5, 3.5, 2.0],
    [5.4, 10.0, 8.2, 5.2, 3.7, 11.0, 7.6, 6.2, 4.8, 9.6, 6.8, 5.3, 1.6, 8.5, 5.0, 2.5,
     1.1, 7.9, 4.3, 2.3, 1.5, 7.6, 4.2, 3.2, 3.5, 9.5, 8.0, 7.5, 6.5, 10.5, 9.0, 8.0,
     7.5, 10.5, 9.0, 8.0, 7.5, 10.0, 8.5, 7.5, 7.0, 10.0, 8.5, 8.0, 8.0, 11.0, 9.5, 9.0,
     8.5, 11.0, 9.5, 8.5, 8.0, 10.5, 9.0, 8.0, 7.5, 9.5, 8.5, 7.5],
    [5.3, 9.8, 8.0, 5.0, 3.5, 10.7, 7.3, 6.0, 4.5, 9.2, 6.5, 5.0, 1.2, 8.0, 4.5, 2.0,
     0.5, 7.1, 3.5, 1.6, 0.6, 6.6, 3.0, 2.0, 1.8, 8.5, 6.0, 5.0, 4.0, 12.0, 8.5, 6.0,
     4.0, 9.0, 6.5, 5.0, 4.5, 8.0, 6.0, 5.0, 5.0, 8.5, 7.0, 6.0, 5.5, 8.5, 7.0, 6.0,
     5.0, 7.5, 6.0, 5.5, 5.0, 8.0, 6.5, 5.5, 5.5, 7.5, 6.5, 5.0],
    [5.3, 9.7, 7.9, 5.0, 3.5, 10.6, 7.2, 5.9, 4.4, 9.1, 6.4, 4.9, 1.1, 7.9, 4.4, 1.9,
     0.3, 6.9, 3.3, 1.4, 0.4, 6.4, 2.6, 1.5, 1.0, 7.8, 5.3, 4.5, 3.0, 8.0, 6.0, 4.5,
     3.5, 7.5, 5.0, 3.0, 1.5, 6.0, 3.5, 1.5, -0.5, 5.0, 2.5, 0.0, -2.0, 4.5, 2.0, 0.5,
     1.0, 6.0, 4.5, 3.5, 4.0, 8.0, 6.5, 6.0, 6.5, 9.0, 7.5, 6.0],
    [5.3, 9.8, 8.0, 5.1, 3.6, 10.7, 7.4, 6.1, 4.6, 9.3, 6.6, 5.1, 1.3, 8.1, 4.6, 2.1,
     0.6, 7.2, 3.6, 1.7, 0.7, 6.8, 3.1, 2.1, 2.0, 8.3, 5.7, 4.9, 4.0, 8.5, 6.5, 5.5,
     5.0, 8.5, 6.5, 5.5, 5.5, 9.0, 7.5, 7.0, 7.0, 9.5, 8.0, 7.5, 7.5, 10.0, 8.5, 8.0,
     8.5, 11.0, 10.0, 9.5, 10.0, 12.0, 11.0, 10.5, 11.0, 12.5, 11.5, 10.5],
    [5.2, 9.6, 7.9, 4.9, 3.4, 10.5, 7.2, 5.9, 4.4, 9.1, 6.4, 4.9, 1.1, 7.9, 4.4, 1.9,
     0.3, 6.9, 3.3, 1.4, 0.3, 6.4, 2.6, 1.6, 1.2, 7.8, 5.3, 4.4, 3.0, 8.0, 5.5, 4.0,
     3.5, 8.0, 6.0, 5.0, 4.5, 8.0, 6.0, 4.5, 3.5, 7.5, 5.5, 4.0, 3.0, 7.0, 5.0, 3.5,
     2.5, 6.5, 4.0, 2.5, 1.5, 5.5, 3.5, 1.5, 0.0, 4.5, 2.0, -0.5],
]

# ---------------- snowfall per 6 h (cm) ----------------
snow_control = [0] * 60
snow_oper = [0] * 40
snow_ensmn = [0, 0, 0, 0, 0, 0, 0, 0, 0, 0, 0, 0, 0, 0, 0, 0, 0, 0, 0, 0,
              0, 0, 0, 0, 0, 0, 0, 0, 0, 0, 0, 0, 0, 0, 0, 0, 0, 0, 0, 0,
              0, 0, 0, 0, 0, 0, 0.01, 0, 0, 0, 0, 0, 0, 0, 0, 0, 0.01, 0.05, 0.03, 0]
snow_members = [
    [0, 0, 0, 0, 0, 0, 0, 0, 0, 0, 0, 0, 0, 0, 0, 0, 0, 0, 0, 0,
     0, 0, 0, 0, 0, 0, 0, 0, 0, 0, 0, 0, 0, 0, 0, 0, 0, 0, 0, 0,
     0, 0, 0, 0, 0, 0, 0, 0, 0, 0, 0, 0, 0, 0, 0, 0, 0.4, 2.7, 0, 0],
    [0, 0, 0, 0, 0, 0, 0, 0, 0, 0, 0, 0, 0, 0, 0, 0, 0, 0, 0, 0,
     0, 0, 0, 0, 0, 0, 0, 0, 0, 0, 0, 0, 0, 0, 0, 0, 0, 0, 0, 0,
     0, 0, 0, 0, 0, 0, 0.3, 0.1, 0.1, 0, 0, 0, 0, 0, 0, 0, 0, 0, 0, 0],
    [0, 0, 0, 0, 0, 0, 0, 0, 0, 0, 0, 0, 0, 0, 0, 0, 0, 0, 0, 0,
     0, 0, 0, 0, 0.1, 0, 0, 0, 0.1, 0.1, 0, 0.2, 0, 0.1, 0, 0, 0, 0, 0, 0,
     0, 0, 0, 0, 0, 0, 0, 0, 0, 0, 0, 0, 0, 0.1, 0.1, 0, 0, 0.1, 0.1, 0],
]

GREEN = '#86b84c'
days = np.array(lead_hours) / 24.0


def draw_panel(ax, members, control, oper, ensmn, ymin, ymax, ystep, ylabel, name,
               dotted=(), magenta=None, zero_line=False):
    for m in members:
        ax.plot(days, m, color=GREEN, lw=0.8, zorder=2)
    for y in dotted:
        ax.axhline(y, color='black', ls=(0, (1, 1.5)), lw=0.9, zorder=1)
    if magenta is not None:
        ax.axhline(magenta, color='#ff44ff', ls=(0, (4, 2)), lw=1.4, zorder=1)
    if zero_line:
        ax.axhline(0, color='black', lw=2.0, zorder=3)
    ax.plot(days[:len(oper)], oper, color='#ff2020', lw=1.4, zorder=4)
    ax.plot(days, control, color='#2020ff', ls=(0, (4, 2)), lw=1.3, zorder=5)
    ax.plot(days, ensmn, color='#800000', ls=(0, (1, 1)), lw=2.0, zorder=6)

    ax.set_xlim(0, 15)
    ax.set_ylim(ymin, ymax)
    ax.set_yticks(np.arange(ymin, ymax + ystep / 2, ystep))
    ax.tick_params(axis='y', left=True, right=True, labelleft=True, labelright=True,
                   labelsize=6.5, length=3, width=0.8, pad=1.5)

    ax.set_xticks(np.arange(0, 16), labels=['00'] * 16)
    quarter = [q for q in range(1, 60) if q % 4 != 0]
    minor_pos = [q / 4 for q in quarter]
    minor_lab = [day_names[q // 4] if q % 4 == 2 else '' for q in quarter]
    ax.set_xticks(minor_pos, labels=minor_lab, minor=True)
    ax.tick_params(axis='x', which='major', labelsize=3.5, length=3, width=0.7, pad=0.2)
    ax.tick_params(axis='x', which='minor', labelsize=6.5, length=2.5, width=0.7, pad=1.2)

    ax.spines['top'].set_visible(False)
    ax.spines['right'].set_color('#555555')
    ax.spines['right'].set_linewidth(1.8)
    ax.spines['left'].set_linewidth(0.9)
    ax.spines['bottom'].set_linewidth(0.9)

    ax.set_title(title, fontsize=7.8, pad=3)
    ax.set_ylabel(ylabel, fontsize=8, fontweight='bold', va='center')
    ax.yaxis.set_label_coords(-0.065, 0.5)
    ax.set_xlabel('Dag', fontsize=8.5, fontweight='bold')
    ax.xaxis.set_label_coords(0.5, -0.095)

    # legend
    for y, style in [(0.947, dict(color='#3030ff', ls=(0, (3, 1.5)), lw=1.5)),
                     (0.897, dict(color='#ff2020', lw=1.3)),
                     (0.848, dict(color='#800000', ls=(0, (1, 1)), lw=2.0))]:
        ax.plot([0.01, 0.075], [y, y], transform=ax.transAxes, zorder=7, **style)
    ax.text(0.143, 0.947, 'Control', transform=ax.transAxes, fontsize=5.2, ha='center', va='center', zorder=7)
    ax.text(0.137, 0.893, 'Oper', transform=ax.transAxes, fontsize=5.2, ha='center', va='center', zorder=7)
    ax.text(0.148, 0.848, 'Ens mn', transform=ax.transAxes, fontsize=5.2, ha='center', va='center', zorder=7)

    ax.text(0.893, 0.95, 'De Bilt', transform=ax.transAxes, fontsize=7, ha='center', va='center', zorder=7)
    ax.text(0.881, 0.877, name, transform=ax.transAxes, fontsize=7, ha='center', va='center', zorder=7)
    ax.text(1.084, -0.13, 'Bron:  ECMWF/KNMI', transform=ax.transAxes, fontsize=5, color='#1010ff',
            fontweight='bold', ha='right', va='center')


fig = plt.figure(figsize=(7.78, 5.54), dpi=100)
W, H = 778.0, 554.0
col_left = [32.3, 420.3]
row_top = [17.3, 201.3, 386.3]
row_h = [138.4, 139.4, 138.4]
axw = 326.0


def make_ax(r, c):
    return fig.add_axes([col_left[c] / W, 1 - (row_top[r] + row_h[r]) / H, axw / W, row_h[r] / H])


ax = make_ax(0, 0)
draw_panel(ax, precip_members, precip_control, precip_oper, precip_ensmn, 0, 20, 5, 'mm',
           'Neerslag/6 uur', dotted=[15])

ax = make_ax(0, 1)
draw_panel(ax, [np.cumsum(m) for m in precip_members], np.cumsum(precip_control),
           np.cumsum(precip_oper), np.cumsum(precip_ensmn), 0, 60, 10, 'mm', 'Accum Neerslag')

ax = make_ax(1, 0)
draw_panel(ax, wind_members, wind_control, wind_oper, wind_ensmn, 0, 25, 5, 'm/s', '10m wind',
           dotted=[10.8, 13.9, 17.2, 24.5], magenta=20.8)

ax = make_ax(1, 1)
draw_panel(ax, gust_members, gust_control, gust_oper, gust_ensmn, 0, 40, 5, 'm/s', 'Windstoten',
           dotted=[20, 25], magenta=28.5)

ax = make_ax(2, 0)
draw_panel(ax, t2m_members, t2m_control, t2m_oper, t2m_ensmn, -10, 20, 5, 'Celsius', 'T2m',
           zero_line=True)

ax = make_ax(2, 1)
draw_panel(ax, snow_members, snow_control, snow_oper, snow_ensmn, 0, 5, 1, 'cm', 'Sneeuwval/6 uur')

# panel separators and outer frame
sep = '#2a2aff'
fig.add_artist(Line2D([389.3 / W] * 2, [0, 1], color=sep, lw=1.0))
fig.add_artist(Line2D([0, 1], [1 - 183.3 / H] * 2, color=sep, lw=1.0))
fig.add_artist(Line2D([0, 1], [1 - 368.3 / H] * 2, color=sep, lw=1.0))
lav = '#b8b8f4'
fig.add_artist(Rectangle((0, 0), 3 / W, 1, color=lav, transform=fig.transFigure))
fig.add_artist(Rectangle((1 - 3 / W, 0), 3 / W, 1, color=lav, transform=fig.transFigure))
fig.add_artist(Rectangle((0, 0), 1, 4 / H, color=lav, transform=fig.transFigure))
fig.add_artist(Rectangle((0, 1 - 1.5 / H), 1, 1.5 / H, color=lav, transform=fig.transFigure))

fig.savefig('out.png', dpi=100)
